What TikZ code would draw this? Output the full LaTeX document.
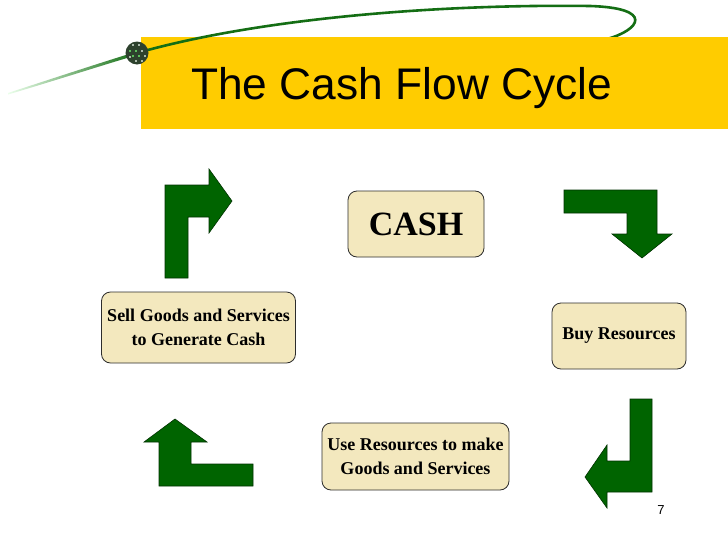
\documentclass[tikz,border=0pt]{standalone}
\usepackage{fontspec}
\setmainfont{Liberation Serif}
\newfontfamily\titlesans{Liberation Sans}
\definecolor{banner}{RGB}{255,204,0}
\definecolor{arrowgreen}{RGB}{0,100,0}
\definecolor{arrowedge}{RGB}{0,50,0}
\definecolor{boxfill}{RGB}{243,232,190}
\definecolor{boxedge}{RGB}{45,45,45}
\definecolor{curvegreen}{RGB}{20,110,20}
\definecolor{bulletdark}{RGB}{45,65,45}
\definecolor{dotgreen}{RGB}{90,190,90}
\definecolor{dotgrey}{RGB}{170,185,170}
\tikzset{
  box/.style={draw=boxedge, line width=0.8pt, fill=boxfill, rounded corners=9pt,
    inner sep=0pt, align=center, font=\bfseries\fontsize{18}{23.5}\selectfont},
  blockarrow/.style={fill=arrowgreen, draw=arrowedge, line width=0.6pt, line join=miter},
  dot/.style={fill=dotgreen, draw=none}
}
\begin{document}
\begin{tikzpicture}[x=1pt,y=-1pt]
\useasboundingbox (0,0) rectangle (728,546);
\fill[white] (0,0) rectangle (728,546);
% banner
\fill[banner] (141,37) rectangle (728,129);
% decorative curve
\shade[left color=green!8!white, right color=curvegreen] (8,93) .. controls (60,76) and (100,63) .. (137,51.5) -- (137,55) .. controls (100,66) and (60,79) .. (8,94.5) -- cycle;
\draw[curvegreen, line width=2.6pt] (137,53) .. controls (260,18) and (440,4) .. (590,6) .. controls (655,8) and (640,30) .. (607,39);
\fill[banner] (600,37) rectangle (620,42);
% bullet
\fill[bulletdark] (137,53) circle (11.5);
\foreach \p/\c in {{(133,45)}/dotgrey, {(139,45)}/dotgrey, {(130,51)}/dotgreen, {(136,51)}/dotgreen, {(142,51)}/dotgrey, {(133,56)}/dotgreen, {(139,56)}/dotgreen, {(145,56)}/dotgrey, {(136,61)}/dotgrey, {(142,61)}/dotgrey, {(130,57)}/dotgrey}
  \fill[\c] \p ++(-1.4,-1.4) rectangle ++(2.8,2.8);
% title
\node[anchor=base west, inner sep=0pt, font=\titlesans\fontsize{44.3}{50}\selectfont] (title) at (191,99) {The Cash Flow Cycle};
% boxes
\node[box, minimum width=136pt, minimum height=66pt, font=\bfseries\fontsize{34}{40}\selectfont] (cash) at (416,224) {CASH};
\node[box, minimum width=194pt, minimum height=71pt] (sell) at (198.5,327.5) {Sell Goods and Services\\to Generate Cash};
\node[box, minimum width=134pt, minimum height=66pt] (buy) at (619,336) {Buy Resources};
\node[box, minimum width=187pt, minimum height=67pt] (use) at (415.5,456.5) {Use Resources to make\\Goods and Services};
% block arrows
\filldraw[blockarrow] (165,278) -- (165,185) -- (209,185) -- (209,169) -- (232,201) -- (209,233) -- (209,217) -- (188,217) -- (188,278) -- cycle;
\filldraw[blockarrow] (564,190) -- (657,190) -- (657,234) -- (672,234) -- (642,258) -- (612,234) -- (627,234) -- (627,213) -- (564,213) -- cycle;
\filldraw[blockarrow] (630,399) -- (652,399) -- (652,492) -- (607,492) -- (607,508) -- (585,477) -- (607,445) -- (607,461) -- (630,461) -- cycle;
\filldraw[blockarrow] (253,464) -- (253,486) -- (159,486) -- (159,442) -- (144,442) -- (175,419) -- (207,442) -- (191,442) -- (191,464) -- cycle;
% page number
\node[inner sep=0pt, font=\titlesans\fontsize{13}{15}\selectfont] (pagenum) at (661,510) {7};
\end{tikzpicture}
\end{document}
